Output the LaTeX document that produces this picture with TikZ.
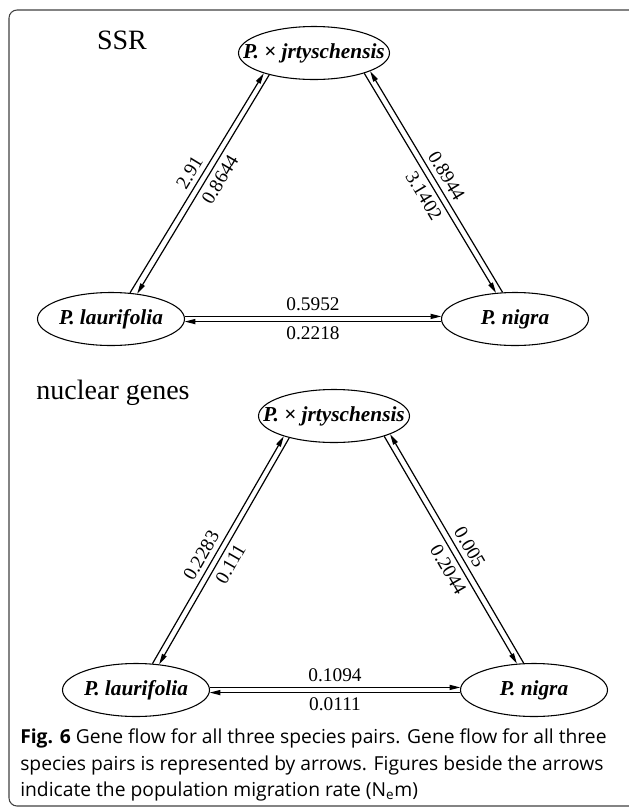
\documentclass[tikz,border=0pt]{standalone}
\usepackage{fontspec}
\setmainfont{Liberation Serif}
\newfontfamily\captionfont{Open Sans}
\usetikzlibrary{shapes.geometric,arrows.meta}
\begin{document}
\begin{tikzpicture}[x=0.75pt,y=-0.75pt,
  topsp/.style={draw, ellipse, line width=0.8pt, inner sep=0pt,
    minimum width=113.25pt, minimum height=39.75pt,
    font=\fontsize{16}{19}\selectfont\bfseries\itshape},
  sidesp/.style={topsp, minimum width=110.25pt},
  flow/.style={line width=0.9pt, -{Triangle[length=8pt,width=3.8pt]}},
  flowback/.style={line width=0.9pt, {Triangle[length=8pt,width=3.8pt]}-},
  rate/.style={font=\fontsize{14.5}{17}\selectfont, inner sep=3.5pt},
  panel/.style={font=\fontsize{21}{25}\selectfont, inner sep=0pt}]

\useasboundingbox (0,0) rectangle (629,808);
\draw[black!75, line width=0.8pt, rounded corners=6pt] (9,10) rectangle (640,806);

% ---- SSR ----
\node[panel] (ssr) at (122,40) {SSR};
\node[topsp]  (t1) at (314,53)  {\makebox[0pt]{P.\ × jrtyschensis}};
\node[sidesp] (l1) at (111,319) {\makebox[0pt]{P.\ laurifolia}};
\node[sidesp] (r1) at (515,319) {\makebox[0pt]{P.\ nigra}};

\draw[flow]     (l1.54.2) -- node[rate, sloped, above, pos=0.52] {2.91}   (t1.-158.3);
\draw[flowback] (l1.44.9) -- node[rate, sloped, below, pos=0.55] {0.8644} (t1.-154.3);
\draw[flowback] (t1.-18.3) -- node[rate, sloped, above, pos=0.50] {0.8944} (r1.115.6);
\draw[flow]     (t1.-22)   -- node[rate, sloped, below, pos=0.53] {3.1402} (r1.126.6);
\draw[flow]     (l1.2)  -- node[rate, above] {0.5952} (r1.178);
\draw[flowback] (l1.-2) -- node[rate, below] {0.2218} (r1.-178);

% ---- nuclear genes ----
\node[panel] (nuc) at (113,393) {nuclear genes};
\node[topsp]  (t2) at (334,416) {\makebox[0pt]{P.\ × jrtyschensis}};
\node[sidesp] (l2) at (136,690) {\makebox[0pt]{P.\ laurifolia}};
\node[sidesp] (r2) at (534,690) {\makebox[0pt]{P.\ nigra}};

\draw[flow]     (l2.58.3) -- node[rate, sloped, above, pos=0.45] {0.2283} (t2.-158.8);
\draw[flowback] (l2.48.3) -- node[rate, sloped, below, pos=0.47] {0.111}  (t2.-154.4);
\draw[flowback] (t2.-18.5) -- node[rate, sloped, above, pos=0.52] {0.005}  (r2.111.8);
\draw[flow]     (t2.-22.6) -- node[rate, sloped, below, pos=0.56] {0.2044} (r2.123.4);
\draw[flow]     (l2.2)  -- node[rate, above] {0.1094} (r2.178);
\draw[flowback] (l2.-2) -- node[rate, below] {0.0111} (r2.-178);

% ---- caption ----
\node[anchor=west, align=left, inner sep=0pt,
      font=\captionfont\fontsize{14.45}{20}\selectfont] (cap) at (20,765)
  {\textbf{Fig. 6} Gene flow for all three species pairs. Gene flow for all three\\
   species pairs is represented by arrows. Figures beside the arrows\\
   indicate the population migration rate (N\textsubscript{e}m)};
\end{tikzpicture}
\end{document}
